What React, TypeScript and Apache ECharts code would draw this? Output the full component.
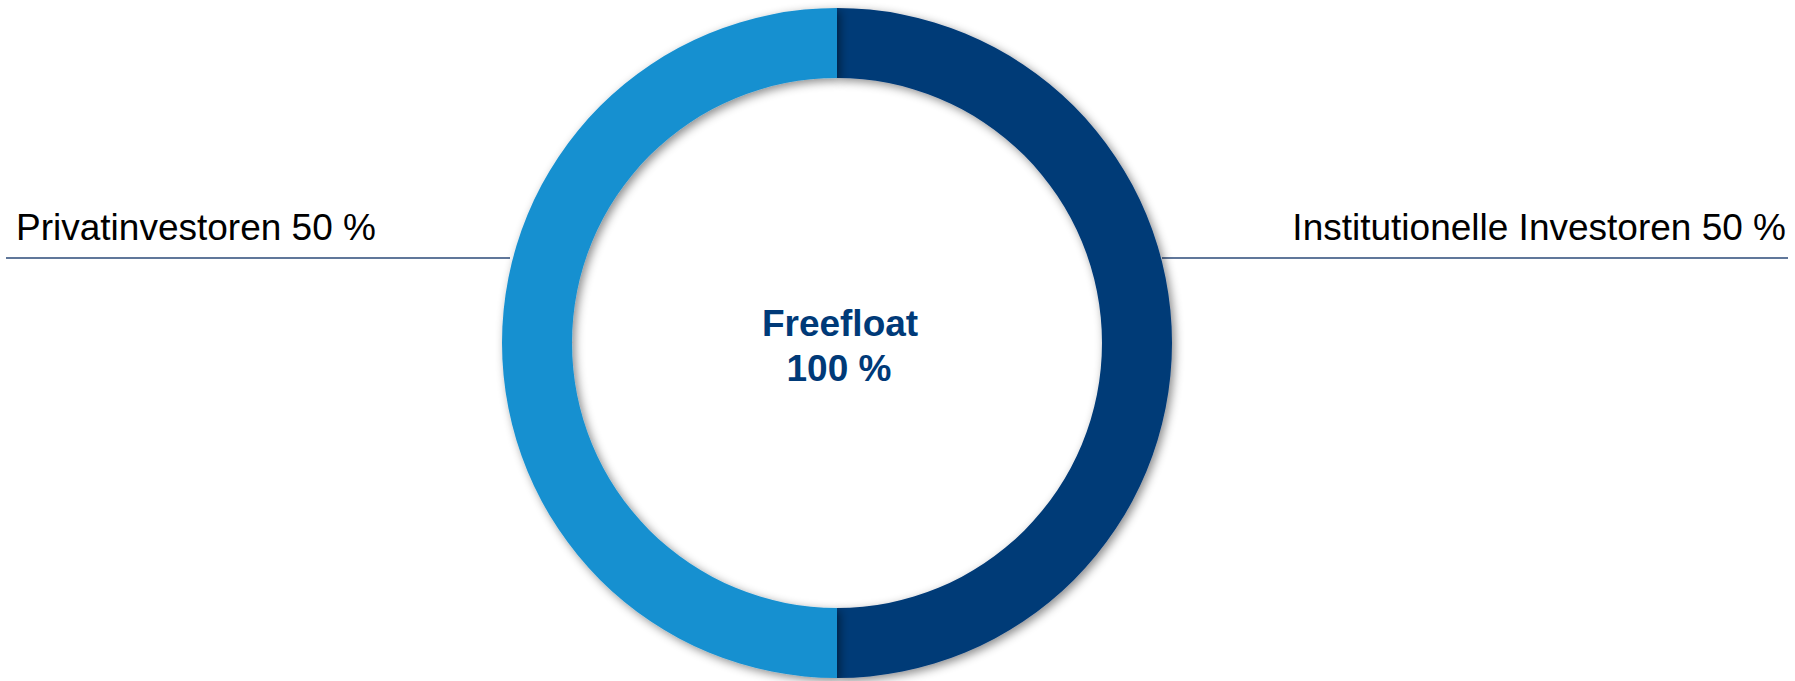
import React, { useEffect, useRef } from "react";
import * as echarts from "echarts";

const categories = ["Institutionelle Investoren", "Privatinvestoren"];
const values = [50, 50];
const colors = ["#013A77", "#1990D0"];
const centerTitle = "Freefloat";
const centerValue = "100 %";

export default function App() {
  const ref = useRef<HTMLDivElement>(null);
  useEffect(() => {
    document.body.style.margin = "0";
    const chart = echarts.init(ref.current!, null, { renderer: "svg" });
    const font = "'Liberation Sans', Arial, sans-serif";
    const lineColor = "#2B4A78";
    chart.setOption({
      animation: false,
      backgroundColor: "#ffffff",
      series: [
        {
          type: "pie",
          center: [837, 343],
          radius: [265, 335],
          startAngle: 90,
          clockwise: true,
          label: { show: false },
          labelLine: { show: false },
          silent: true,
          itemStyle: {
            shadowBlur: 10,
            shadowOffsetX: 3,
            shadowOffsetY: 3,
            shadowColor: "rgba(0,0,0,0.45)",
          },
          data: categories.map((c, i) => ({
            name: c,
            value: values[i],
            itemStyle: { color: colors[i] },
          })),
        },
      ],
      graphic: [
        {
          type: "line",
          shape: { x1: 6, y1: 258, x2: 510, y2: 258 },
          style: { stroke: lineColor, lineWidth: 1.4 },
          z: -1,
        },
        {
          type: "line",
          shape: { x1: 1162, y1: 258, x2: 1788, y2: 258 },
          style: { stroke: lineColor, lineWidth: 1.4 },
          z: -1,
        },
        {
          type: "text",
          x: 16,
          y: 227,
          style: {
            text: `${categories[1]} ${values[1]} %`,
            fontFamily: font,
            fontSize: 37,
            fill: "#000000",
            align: "left",
            verticalAlign: "middle",
          },
        },
        {
          type: "text",
          x: 1786,
          y: 227,
          style: {
            text: `${categories[0]} ${values[0]} %`,
            fontFamily: font,
            fontSize: 37,
            fill: "#000000",
            align: "right",
            verticalAlign: "middle",
          },
        },
        {
          type: "text",
          x: 840,
          y: 323,
          style: {
            text: centerTitle,
            fontFamily: font,
            fontSize: 37,
            fontWeight: "bold",
            fill: "#003A78",
            align: "center",
            verticalAlign: "middle",
          },
        },
        {
          type: "text",
          x: 839,
          y: 368,
          style: {
            text: centerValue,
            fontFamily: font,
            fontSize: 37,
            fontWeight: "bold",
            fill: "#003A78",
            align: "center",
            verticalAlign: "middle",
          },
        },
      ],
    });
    return () => chart.dispose();
  }, []);
  return <div ref={ref} style={{ width: 1795, height: 681 }} />;
}
